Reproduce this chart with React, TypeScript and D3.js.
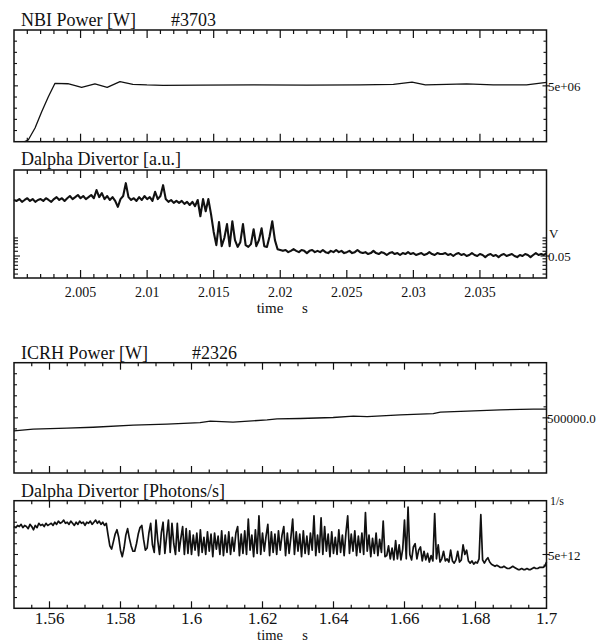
import { useRef, useEffect } from "react";
import * as d3 from "d3";

// ---- shot #3703 (NBI heated) ----
const nbiTime = [
  2.0008, 2.00107, 2.00158, 2.00208, 2.00258, 2.00308, 2.00405, 2.00508, 2.00608, 2.007,
  2.00796, 2.00893, 2.00998, 2.0112, 2.014, 2.018, 2.022, 2.026, 2.0285, 2.0299,
  2.0309, 2.0325, 2.034, 2.036, 2.0385, 2.04,
];
const nbiPower = [
  0, 0.15e6, 1.23e6, 2.69e6, 4.03e6, 5.23e6, 5.19e6, 4.87e6, 5.17e6, 4.87e6,
  5.37e6, 5.14e6, 5.08e6, 5.05e6, 5.07e6, 5.09e6, 5.07e6, 5.09e6, 5.14e6, 5.34e6,
  5.08e6, 5.14e6, 5.17e6, 5.08e6, 5.08e6, 5.32e6,
];

// Dalpha divertor [a.u.], sampled from 2.0 s every 0.2 ms
const dalphaAuStart = 2.0;
const dalphaAuStep = 0.0002;
const dalphaAu = [
  0.43, 0.415, 0.445, 0.4, 0.43, 0.46, 0.415, 0.445, 0.4, 0.43,
  0.445, 0.415, 0.46, 0.43, 0.4, 0.445, 0.48, 0.43, 0.46, 0.415,
  0.46, 0.5, 0.445, 0.48, 0.52, 0.46, 0.5, 0.445, 0.48, 0.52,
  0.46, 0.63, 0.48, 0.56, 0.445, 0.5, 0.43, 0.48, 0.415, 0.33,
  0.445, 0.5, 0.82, 0.48, 0.43, 0.46, 0.415, 0.48, 0.43, 0.5,
  0.445, 0.48, 0.415, 0.59, 0.445, 0.5, 0.76, 0.445, 0.4, 0.43,
  0.385, 0.415, 0.385, 0.415, 0.37, 0.4, 0.355, 0.4, 0.34, 0.43,
  0.23, 0.445, 0.28, 0.445, 0.25, 0.126, 0.076, 0.184, 0.073, 0.1,
  0.17, 0.073, 0.19, 0.092, 0.071, 0.085, 0.17, 0.076, 0.071, 0.079,
  0.14, 0.073, 0.092, 0.145, 0.073, 0.071, 0.107, 0.19, 0.092, 0.065,
  0.063,
  0.061, 0.063, 0.058, 0.061, 0.065, 0.061, 0.058, 0.063, 0.061, 0.056,
  0.061, 0.063, 0.058, 0.061, 0.058, 0.063, 0.058, 0.056, 0.061, 0.058,
  0.063, 0.058, 0.061, 0.056, 0.058, 0.061, 0.056, 0.058, 0.063, 0.058,
  0.056, 0.058, 0.054, 0.056, 0.061, 0.056, 0.054, 0.058, 0.056, 0.052,
  0.056, 0.058, 0.054, 0.056, 0.052, 0.056, 0.054, 0.058, 0.054, 0.056,
  0.052, 0.054, 0.056, 0.052, 0.054, 0.058, 0.054, 0.052, 0.056, 0.054,
  0.054, 0.056, 0.052, 0.054, 0.05, 0.054, 0.056, 0.052, 0.054, 0.05,
  0.052, 0.056, 0.052, 0.05, 0.054, 0.052, 0.048, 0.052, 0.054, 0.05,
  0.052, 0.048, 0.052, 0.054, 0.05, 0.052, 0.054, 0.05, 0.048, 0.052,
  0.05, 0.054, 0.052, 0.048, 0.052, 0.056, 0.052, 0.054, 0.052, 0.056,
];
const dalphaAuTicks = [0.025, 0.03, 0.035, 0.04, 0.045, 0.05, 0.06, 0.07, 0.08, 0.09, 0.1];
const nbiTickLabels = ["2.005", "2.01", "2.015", "2.02", "2.025", "2.03", "2.035"];

// ---- shot #2326 (ICRH heated) ----
const icrhTime = [
  1.55, 1.5554, 1.5649, 1.5723, 1.5836, 1.5931, 1.6024, 1.6053, 1.6117, 1.6213,
  1.6241, 1.6306, 1.6399, 1.6456, 1.6495, 1.6588, 1.6681, 1.6701, 1.6777, 1.687,
  1.6963, 1.7,
];
const icrhPower = [
  382000, 397000, 406000, 415000, 434000, 443000, 457000, 470000, 461000, 482000,
  491000, 494000, 503000, 515000, 512000, 527000, 539000, 552000, 561000, 573000,
  579000, 579000,
];

// Dalpha divertor in units of 1e12 photons/s, sampled from 1.55 s every 0.5 ms
const dalphaPhStart = 1.55;
const dalphaPhStep = 0.0005;
const dalphaPhUnit = 1e12;
const dalphaPh = [
  7.6, 7.5, 7.7, 7.6, 7.8, 7.5, 7.7, 7.6, 7.4, 7.8,
  7.6, 7.3, 7.7, 7.5, 7.9, 7.7, 7.8, 7.6, 7.9, 7.7,
  7.8, 7.9, 7.7, 8.0, 7.8, 8.1, 7.9, 8.0, 8.2, 7.9,
  8.0, 7.8, 8.1, 7.9, 7.7, 8.0, 7.8, 8.1, 7.9, 8.0,
  7.7, 8.0, 7.9, 8.1, 7.8, 8.0, 8.2, 7.9, 8.1, 7.8,
  8.0, 7.7, 7.9,
  6.8, 5.8, 5.5, 6.2, 6.9, 7.3, 6.6, 5.4, 4.8, 5.6,
  6.8, 7.4, 6.5, 5.8, 5.3, 5.3, 6.0, 6.9, 7.5, 7.7,
  6.4, 5.4, 5.6, 7.0, 7.9, 5.9, 5.2, 8.2, 6.3, 5.0,
  7.0, 8.0, 5.1, 6.7, 8.2, 5.2, 7.9, 6.0, 5.0, 7.9,
  5.3, 6.5, 7.6, 5.0, 7.4,
  5.1, 7.2, 5.0, 6.8, 5.4, 7.0, 4.9, 7.3, 5.2, 6.6,
  5.0, 7.1, 5.3, 6.9, 4.8, 7.0, 5.5, 6.7, 5.0, 7.2,
  4.9, 6.8, 5.2, 7.1, 5.0, 6.6, 5.3, 7.0, 7.6, 4.9,
  6.9, 5.1, 7.2, 5.0, 8.3, 5.4, 6.8, 4.8, 7.3, 5.1,
  8.6, 5.0, 7.0, 5.3, 6.7, 7.8, 4.9, 7.1, 5.2, 6.9,
  5.0, 7.2, 5.4, 6.8, 7.6, 4.9, 7.0, 5.1, 6.6, 8.3,
  5.0, 7.1, 5.3, 6.9, 4.8, 7.2, 5.1, 6.7, 5.0, 7.0,
  5.4, 8.6, 4.9, 6.8, 5.2, 8.4, 5.0, 7.6, 5.3, 6.9,
  4.8, 7.1, 5.1, 6.6, 5.0, 7.3, 5.2, 6.8, 4.9, 7.0,
  8.6, 5.1, 6.9, 5.3, 7.2, 4.9, 6.7, 5.2, 7.0, 5.0,
  8.9, 5.3, 6.8, 4.8, 6.5, 5.1, 7.0, 4.9, 6.4, 5.2,
  8.1, 4.8,
  4.9, 5.8, 4.6, 5.6, 4.5, 6.3, 4.6, 5.9, 4.5, 5.5,
  8.2, 4.6, 9.4, 5.0, 4.5, 5.7, 6.0, 4.6, 5.4, 5.7,
  4.4, 5.3, 4.5, 5.1, 4.3, 4.9,
  4.4, 8.8, 4.6, 5.9, 4.3, 4.6, 5.3, 4.4, 4.6, 4.3,
  5.4, 4.4, 4.2, 4.5, 5.3, 4.3, 4.5, 5.9, 5.0, 5.4,
  4.4, 4.2, 4.4, 4.1, 4.3, 4.2, 4.6, 8.7, 4.5, 4.2,
  4.5,
  4.7, 4.3, 4.1, 4.0, 3.9, 4.0, 3.9, 3.8, 3.8, 3.9,
  3.8, 3.7, 3.7, 3.8, 3.9, 3.8, 3.7, 3.6, 3.6, 3.7,
  3.6, 3.6, 3.7, 3.6, 3.6, 3.7, 3.8, 3.7, 3.7, 3.8,
  3.8, 3.8, 3.9, 4.3,
];
const icrhTickLabels = ["1.56", "1.58", "1.6", "1.62", "1.64", "1.66", "1.68", "1.7"];

const FONT = "'Liberation Serif', 'Times New Roman', serif";

export default function App() {
  const ref = useRef<SVGSVGElement>(null);
  useEffect(() => {
    const svg = d3.select(ref.current);
    svg.selectAll("*").remove();

    const left = 14;
    const right = 546.5;

    const xTop = d3.scaleLinear().domain([2.0, 2.04]).range([left, right]);
    const xBot = d3.scaleLinear().domain([1.55, 1.7]).range([left, right]);

    const yNbi = d3.scaleLinear().domain([0, 1e7]).range([141.7, 30]);
    const yDa1 = d3.scaleLog().domain([0.0215, 1.36]).range([278, 170]);
    const yIcrh = d3.scaleLinear().domain([0, 1e6]).range([473, 362.7]);
    const yDa2 = d3.scaleLinear().domain([0, 1e13]).range([608.3, 500.7]);

    const near = (a: number, list: number[]) => list.some((b) => Math.abs(a - b) < 1e-9 * Math.max(1, Math.abs(b)));

    // box + inward ticks on all four sides
    function frame(
      x: any, y: any,
      xMinor: number[], xMajor: number[], xLen: [number, number],
      yMinor: number[], yMajor: number[], yLen: [number, number]
    ) {
      const [x0, x1] = x.range();
      const [yb, yt] = y.range();
      const g = svg.append("g").attr("stroke", "#111").attr("fill", "none");
      g.append("rect")
        .attr("x", x0).attr("y", yt)
        .attr("width", x1 - x0).attr("height", yb - yt)
        .attr("stroke-width", 1.5);
      xMinor.forEach((t) => {
        const px = x(t);
        if (px <= x0 + 1 || px >= x1 - 1) return;
        const len = near(t, xMajor) ? xLen[0] : xLen[1];
        g.append("line").attr("x1", px).attr("x2", px).attr("y1", yt).attr("y2", yt + len).attr("stroke-width", 1.2);
        g.append("line").attr("x1", px).attr("x2", px).attr("y1", yb).attr("y2", yb - len).attr("stroke-width", 1.2);
      });
      yMinor.forEach((v) => {
        const py = y(v);
        if (py >= yb - 1 || py <= yt + 1) return;
        const major = near(v, yMajor);
        const len = major ? yLen[0] : yLen[1];
        g.append("line").attr("x1", x0).attr("x2", x0 + len).attr("y1", py).attr("y2", py).attr("stroke-width", 1.1);
        g.append("line").attr("x1", major ? x1 + 3 : x1).attr("x2", x1 - len).attr("y1", py).attr("y2", py).attr("stroke-width", 1.1);
      });
    }

    const text = (x: number, y: number, s: string, size: number, anchor = "start") =>
      svg.append("text")
        .attr("x", x).attr("y", y)
        .attr("font-family", FONT).attr("font-size", size)
        .attr("text-anchor", anchor).attr("fill", "#111")
        .text(s);

    const drawLine = (pts: [number, number][], x: any, y: any, w: number) =>
      svg.append("path")
        .datum(pts)
        .attr("fill", "none").attr("stroke", "#111")
        .attr("stroke-width", w).attr("stroke-linejoin", "round")
        .attr("d", d3.line<[number, number]>().x((d) => x(d[0])).y((d) => y(d[1])) as any);

    // ---------- shot #3703 ----------
    const topMinor = xTop.ticks(40);
    const topMajor = xTop.ticks(8);

    frame(xTop, yNbi, topMinor, topMajor, [8, 4], yNbi.ticks(10), [5e6], [4, 3]);
    drawLine(nbiTime.map((t, i) => [t, nbiPower[i]] as [number, number]), xTop, yNbi, 1.3);
    text(21, 26, "NBI Power [W]", 18);
    text(171, 26, "#3703", 18);
    text(548, 90.5, "5e+06", 13);

    frame(xTop, yDa1, topMinor, topMajor, [8, 4], dalphaAuTicks, [0.05], [6, 4]);
    drawLine(dalphaAu.map((v, i) => [dalphaAuStart + i * dalphaAuStep, v] as [number, number]), xTop, yDa1, 2.1);
    text(21, 165, "Dalpha Divertor [a.u.]", 18);
    text(549, 238, "V", 13);
    text(548, 261, "0.05", 13);
    nbiTickLabels.forEach((s) => text(xTop(+s), 296.5, s, 14, "middle"));
    text(270, 313, "time", 15, "middle");
    text(305, 313, "s", 15, "middle");

    // ---------- shot #2326 ----------
    const botMinor = xBot.ticks(30);
    const botMajor = xBot.ticks(8);

    frame(xBot, yIcrh, botMinor, botMajor, [7, 3.5], yIcrh.ticks(10), [5e5], [4, 3]);
    drawLine(icrhTime.map((t, i) => [t, icrhPower[i]] as [number, number]), xBot, yIcrh, 1.3);
    text(21, 359, "ICRH Power [W]", 18);
    text(192, 359, "#2326", 18);
    text(547, 423, "500000.0", 13);

    frame(xBot, yDa2, botMinor, botMajor, [7, 3.5], yDa2.ticks(10), [5e12], [4, 3]);
    drawLine(dalphaPh.map((v, i) => [dalphaPhStart + i * dalphaPhStep, v * dalphaPhUnit] as [number, number]), xBot, yDa2, 1.7);
    text(21, 497, "Dalpha Divertor [Photons/s]", 18);
    text(550, 505, "1/s", 12);
    text(548, 560, "5e+12", 13);
    icrhTickLabels.forEach((s) => text(xBot(+s), 623.5, s, 17, "middle"));
    text(270, 639.5, "time", 14.5, "middle");
    text(305, 639.5, "s", 14.5, "middle");
  }, []);

  return (
    <svg
      ref={ref}
      width={605}
      height={643}
      style={{ position: "absolute", left: 0, top: 0, background: "#fff" }}
    />
  );
}
